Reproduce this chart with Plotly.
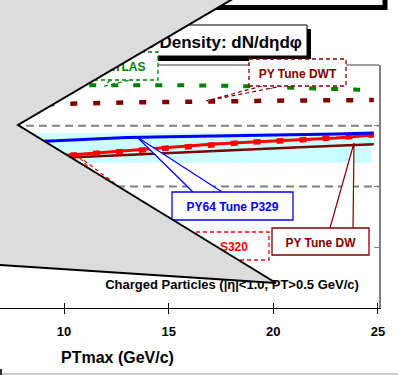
import plotly.graph_objects as go

# ---- data -------------------------------------------------------------
pt_max = [7, 9, 11, 13, 15, 17, 19, 21, 23, 24.8]

atlas = [0.918, 0.918, 0.918, 0.918, 0.917, 0.916, 0.912, 0.905, 0.901, 0.897]
tune_dwt = [0.835, 0.837, 0.842, 0.846, 0.849, 0.851, 0.853, 0.854, 0.855, 0.856]
tune_p329 = [0.678, 0.685, 0.693, 0.702, 0.705, 0.707, 0.709, 0.712, 0.716, 0.720]
tune_s320 = [0.608, 0.621, 0.634, 0.646, 0.658, 0.674, 0.683, 0.690, 0.700, 0.712]
tune_dw = [0.607, 0.615, 0.623, 0.632, 0.640, 0.647, 0.654, 0.661, 0.668, 0.674]

band_x = [7, 24.67]
band_low = [0.597, 0.597]
band_high = [0.720, 0.720]

x_ticks = [10, 15, 20, 25]
x_tick_text = ["10", "15", "20", "25"]
grid_levels = [0.5, 0.75]

FONT = "Liberation Sans, Arial, sans-serif"
GREEN = "#008000"
MAROON = "#800000"
BLUE = "#0000ff"
RED = "#ff0000"
GRAY = "#808080"

# plot-area geometry (pixels) used to place the slide decorations
PLOT_W, PLOT_H, PLOT_BOTTOM = 379, 243, 308


def X(px):
    return px / PLOT_W


def Y(py):
    return (PLOT_BOTTOM - py) / PLOT_H


def path(points, close=False):
    s = "M " + " L ".join(f"{X(a):.5f},{Y(b):.5f}" for a, b in points)
    return s + (" Z" if close else "")


fig = go.Figure()

# data band
fig.add_trace(go.Scatter(x=band_x, y=band_low, mode="lines", line=dict(width=0),
                         hoverinfo="skip"))
fig.add_trace(go.Scatter(x=band_x, y=band_high, mode="lines", line=dict(width=0),
                         fill="tonexty", fillcolor="#ccffff", hoverinfo="skip"))

fig.add_trace(go.Scatter(x=pt_max, y=tune_dw, mode="lines",
                         line=dict(color=MAROON, width=2.5), name="PY Tune DW"))
fig.add_trace(go.Scatter(x=pt_max, y=tune_s320, mode="lines",
                         line=dict(color=RED, width=3), name="PY64 Tune S320"))
fig.add_trace(go.Scatter(x=pt_max, y=tune_s320, mode="lines",
                         line=dict(color=RED, width=5.5, dash="7px,16px"),
                         showlegend=False))
fig.add_trace(go.Scatter(x=pt_max, y=tune_p329, mode="lines",
                         line=dict(color=BLUE, width=3), name="PY64 Tune P329"))
fig.add_trace(go.Scatter(x=pt_max, y=tune_dwt, mode="lines",
                         line=dict(color=MAROON, width=4.5, dash="7px,16px"),
                         name="PY Tune DWT"))
fig.add_trace(go.Scatter(x=pt_max, y=atlas, mode="lines",
                         line=dict(color=GREEN, width=4, dash="7px,15px"),
                         name="ATLAS"))
# carrier trace for the inward tick marks
fig.add_trace(go.Scatter(x=[10], y=[None], xaxis="x2", mode="lines",
                         hoverinfo="skip"))

shapes = []

# dashed reference levels
for g in grid_levels:
    shapes.append(dict(type="line", xref="paper", yref="y", x0=0, x1=1, y0=g, y1=g,
                       line=dict(color=GRAY, width=2, dash="8px,5px"), layer="below"))

# top frame line of the plot area
shapes.append(dict(type="line", xref="paper", yref="paper", x0=0, x1=1, y0=1, y1=1,
                   line=dict(color=GRAY, width=1.5), layer="above"))

# big framed box across the top
shapes.append(dict(type="rect", xref="paper", yref="paper",
                   x0=X(100), x1=X(385), y0=Y(-40), y1=Y(7.5),
                   line=dict(color="black", width=5), fillcolor="white", layer="above"))

# title box with drop shadow
shapes.append(dict(type="rect", xref="paper", yref="paper",
                   x0=X(-20), x1=X(311), y0=Y(61), y1=Y(29),
                   line=dict(width=0), fillcolor="black", layer="above"))
shapes.append(dict(type="rect", xref="paper", yref="paper",
                   x0=X(-24), x1=X(307), y0=Y(56), y1=Y(25),
                   line=dict(color="black", width=1), fillcolor="white", layer="above",
                   label=dict(text="Charged Particle Density: dN/dηdφ",
                              textposition="middle right", padding=2,
                              font=dict(family=FONT, size=17, color="black",
                                        weight="bold"))))


def callout(box, tip_a, tip_b, tip, text, color, dashed):
    dash = "4px,3px" if dashed else "solid"
    shapes.append(dict(type="path", xref="paper", yref="paper",
                       path=path([tip_a, tip, tip_b]),
                       line=dict(color=color, width=1.2, dash=dash),
                       fillcolor="white", layer="above"))
    x0, y0, x1, y1 = box
    shapes.append(dict(type="rect", xref="paper", yref="paper",
                       x0=X(x0), x1=X(x1), y0=Y(y1), y1=Y(y0),
                       line=dict(color=color, width=1.3, dash=dash),
                       fillcolor="white", layer="above",
                       label=dict(text=text, textposition="middle center",
                                  font=dict(family=FONT, size=12, color=color,
                                            weight="bold"))))


callout((94, 52, 158, 80), (110, 80), (130, 80), (105, 86), "ATLAS", GREEN, True)
callout((249, 59, 346, 86), (262, 86), (282, 86), (206, 101), "PY Tune DWT", MAROON, True)
callout((172, 192, 293, 220), (193, 192), (222, 192), (137, 137), "PY64 Tune P329", BLUE, False)
callout((272, 228, 369, 255), (330, 228), (353, 228), (354, 143), "PY Tune DW", MAROON, False)
callout((135, 232, 269, 260), (150, 232), (180, 232), (78, 156), "PY64 Tune S320", RED, True)

# selection note
shapes.append(dict(type="rect", xref="paper", yref="paper",
                   x0=X(96), x1=X(368), y0=Y(292), y1=Y(274),
                   line=dict(width=0), fillcolor="rgba(0,0,0,0)", layer="above",
                   label=dict(text="Charged Particles (|η|<1.0, PT>0.5 GeV/c)",
                              textposition="middle center",
                              font=dict(family=FONT, size=13, color="black",
                                        weight="bold"))))

# grey overlay panel
shapes.append(dict(type="path", xref="paper", yref="paper",
                   path=path([(-10, -10), (248, -10), (18, 125), (276, 283), (-10, 264.3)],
                             close=True),
                   line=dict(color="black", width=2), fillcolor="#dcdcdc", layer="above"))

# bottom frame line
shapes.append(dict(type="line", xref="paper", yref="paper",
                   x0=X(0), x1=X(400), y0=Y(374), y1=Y(374),
                   line=dict(color="#9a9a9a", width=1), layer="above"))
shapes.append(dict(type="line", xref="paper", yref="paper",
                   x0=X(1), x1=X(1), y0=Y(369), y1=Y(376),
                   line=dict(color="#333333", width=2), layer="above"))

fig.update_layout(
    width=398, height=375,
    margin=dict(l=0, r=19, t=65, b=67),
    paper_bgcolor="white", plot_bgcolor="white",
    showlegend=False,
    shapes=shapes,
    xaxis=dict(range=[6.94, 25.05], showline=True, linecolor="black", linewidth=1.3,
               ticks="outside", ticklen=5, tickcolor="black", tickwidth=1.2,
               tickvals=x_ticks, ticktext=[f"<b>{t}</b>" for t in x_tick_text],
               tickfont=dict(family=FONT, size=13, color="black"),
               ticklabelstandoff=6,
               showgrid=False, zeroline=False, fixedrange=True),
    xaxis2=dict(overlaying="x", matches="x", side="bottom", ticks="inside", ticklen=5,
                tickcolor="black", tickwidth=1.2, tickvals=x_ticks,
                showticklabels=False, showline=False, showgrid=False, zeroline=False),
    yaxis=dict(range=[0, 1], side="right", showline=True, linecolor=GRAY, linewidth=1.5,
               ticks="inside", ticklen=5, tickcolor=GRAY, tickvals=[0.25, 0.5, 0.75],
               showticklabels=False, showgrid=False, zeroline=False, fixedrange=True),
    annotations=[dict(text="<b>PTmax (GeV/c)</b>", xref="paper", yref="paper",
                      x=X(117), y=Y(357), xanchor="center", yanchor="middle",
                      showarrow=False,
                      font=dict(family=FONT, size=16, color="black"))],
)

fig.write_html("out.html")
